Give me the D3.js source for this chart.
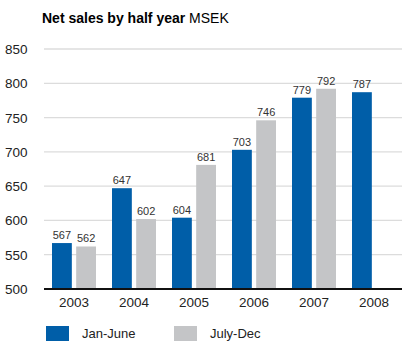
<!DOCTYPE html>
<html><head><meta charset="utf-8">
<script src="https://cdn.jsdelivr.net/npm/d3@7"></script>
<style>body{margin:0;background:#fff}svg{display:block}text{font-family:"Liberation Sans",Arial,sans-serif}</style>
</head><body><svg id="c" width="402" height="341"></svg>
<script>
const years = ["2003","2004","2005","2006","2007","2008"];
const janJune = [567,647,604,703,779,787];
const julyDec = [562,602,681,746,792,null];
const seriesNames = ["Jan-June","July-Dec"];
const yTicks = [500,550,600,650,700,750,800,850];
const colors = ["#005EA8","#C4C5C7"];

const svg = d3.select("#c");
const x0 = d3.scaleBand().domain(years).range([44,404]).paddingInner(0).paddingOuter(0);
const x1 = d3.scaleBand().domain([0,1]).range([8,52]).paddingInner(0.18);
const y = d3.scaleLinear().domain([500,850]).range([289,49]);

svg.append("text").attr("x",42).attr("y",23).attr("font-size",14)
  .call(t=>{t.append("tspan").attr("font-weight","bold").text("Net sales by half year");
            t.append("tspan").text(" MSEK");});

const grid = svg.append("g");
grid.selectAll("line").data(yTicks.filter(d=>d>500)).join("line")
  .attr("x1",44).attr("x2",402).attr("y1",d=>y(d)).attr("y2",d=>y(d))
  .attr("stroke","#dcdcdc").attr("stroke-width",1.3);
grid.selectAll("text").data(yTicks).join("text")
  .attr("x",5).attr("y",d=>y(d)+5).attr("font-size",13.5).attr("fill","#222").text(d=>d);

const data = years.map((yr,i)=>({yr, vals:[janJune[i],julyDec[i]]}));
const g = svg.selectAll("g.grp").data(data).join("g").attr("class","grp")
  .attr("transform",d=>`translate(${x0(d.yr)},0)`);
g.selectAll("rect").data(d=>d.vals.map((v,k)=>({v,k})).filter(e=>e.v!=null)).join("rect")
  .attr("x",e=>x1(e.k)).attr("width",x1.bandwidth())
  .attr("y",e=>y(e.v)).attr("height",e=>y(500)-y(e.v)).attr("fill",e=>colors[e.k]);
g.selectAll("text").data(d=>d.vals.map((v,k)=>({v,k})).filter(e=>e.v!=null)).join("text")
  .attr("x",e=>x1(e.k)+x1.bandwidth()/2).attr("y",e=>y(e.v)-4)
  .attr("text-anchor","middle").attr("font-size",11).attr("fill","#333").text(e=>e.v);

svg.append("line").attr("x1",44).attr("x2",402).attr("y1",289).attr("y2",289)
  .attr("stroke","#111").attr("stroke-width",2.2);

svg.selectAll("text.xl").data(years).join("text").attr("class","xl")
  .attr("x",d=>x0(d)+x0.bandwidth()/2).attr("y",307).attr("text-anchor","middle")
  .attr("font-size",13.5).attr("fill","#222").text(d=>d);

const lx = [46,174];
const lg = svg.selectAll("g.lg").data(seriesNames).join("g").attr("class","lg")
  .attr("transform",(d,i)=>`translate(${lx[i]},326)`);
lg.append("rect").attr("width",23).attr("height",15).attr("fill",(d,i)=>colors[i]);
lg.append("text").attr("x",36).attr("y",12).attr("font-size",13).attr("fill","#222").text(d=>d);
</script></body></html>
